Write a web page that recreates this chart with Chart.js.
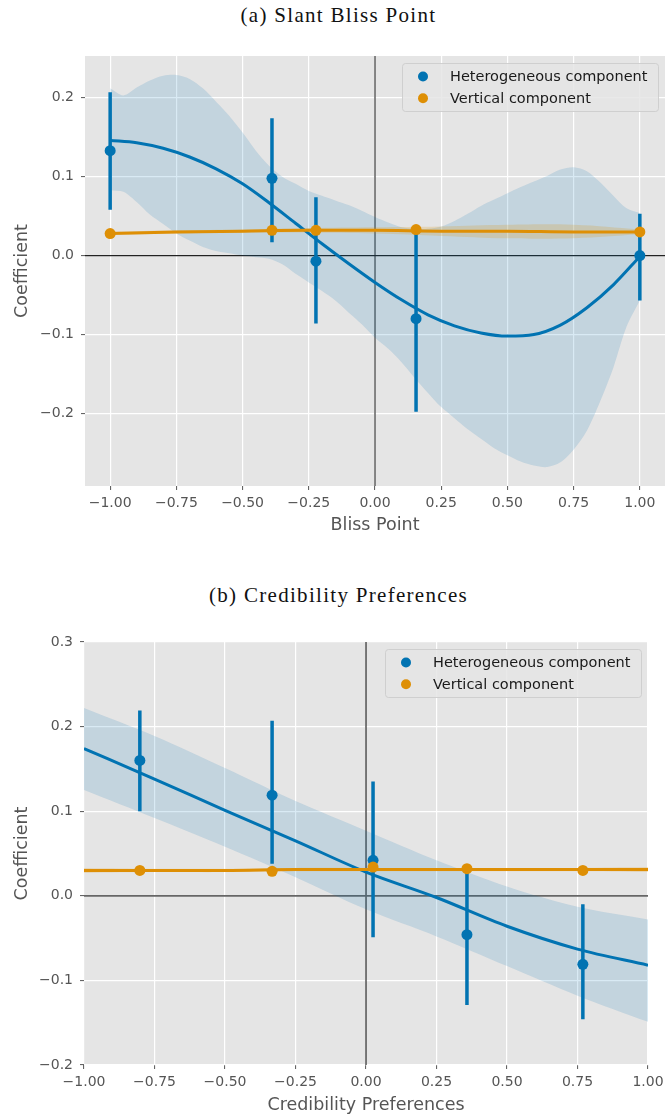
<!DOCTYPE html>
<html>
<head>
<meta charset="utf-8">
<script src="https://cdn.jsdelivr.net/npm/chart.js@4.4.1/dist/chart.umd.min.js"></script>
<style>
    body { margin: 0; background: #fff; }
    #page { position: relative; width: 665px; height: 1118px; overflow: hidden; }
    .panel-title {
        position: absolute; left: 6px; width: 665px; height: 30px; line-height: 30px;
        text-align: center; font-family: "Liberation Serif", serif; font-size: 21px;
        letter-spacing: 1.3px; color: #111;
    }
    canvas { position: absolute; left: 0; }
</style>
</head>
<body>
<div id="page">
    <div class="panel-title" style="top: 0;">(a) Slant Bliss Point</div>
    <canvas id="chartBliss" width="665" height="510" style="top: 30px;"></canvas>
    <div class="panel-title" style="top: 580px;">(b) Credibility Preferences</div>
    <canvas id="chartCred" width="665" height="508" style="top: 610px;"></canvas>
</div>

<script>
// ---- (a) Slant bliss point ----
const blissX = [-1.0, -0.389, -0.223, 0.155, 1.0];
const blissHet = [0.133, 0.098, -0.007, -0.080, 0.000];
const blissHetLo = [0.058, 0.017, -0.086, -0.198, -0.057];
const blissHetHi = [0.207, 0.174, 0.074, 0.034, 0.053];
const blissVert = [0.028, 0.032, 0.032, 0.033, 0.030];

const blissFitX = [-1.0, -0.9, -0.8, -0.7, -0.6, -0.5, -0.4, -0.3, -0.2, -0.1, 0.0,
    0.1, 0.2, 0.3, 0.4, 0.5, 0.6, 0.7, 0.8, 0.9, 1.0];
const blissHetFit = [0.146, 0.143, 0.136, 0.125, 0.110, 0.091, 0.067, 0.041, 0.015, -0.010, -0.034,
    -0.056, -0.075, -0.089, -0.098, -0.102, -0.100, -0.088, -0.066, -0.037, -0.001];

const blissBandX = [-1.0, -0.95, -0.9, -0.85, -0.8, -0.75, -0.7, -0.65, -0.6, -0.55, -0.5,
    -0.45, -0.4, -0.35, -0.3, -0.25, -0.2, -0.15, -0.1, -0.05, 0.0,
    0.05, 0.1, 0.15, 0.2, 0.25, 0.3, 0.35, 0.4, 0.45, 0.5,
    0.55, 0.6, 0.65, 0.7, 0.75, 0.8, 0.85, 0.9, 0.95, 1.0];
const blissBandHi = [0.212, 0.203, 0.213, 0.222, 0.228, 0.229, 0.224, 0.212, 0.195, 0.177, 0.156,
    0.133, 0.114, 0.100, 0.091, 0.082, 0.076, 0.070, 0.064, 0.057, 0.049,
    0.042, 0.036, 0.034, 0.034, 0.037, 0.044, 0.053, 0.063, 0.071, 0.079,
    0.087, 0.094, 0.101, 0.109, 0.112, 0.107, 0.093, 0.076, 0.060, 0.054];
const blissBandLo = [0.083, 0.081, 0.068, 0.052, 0.040, 0.028, 0.019, 0.011, 0.006, 0.003, 0.000,
    -0.002, -0.004, -0.011, -0.023, -0.034, -0.045, -0.057, -0.072, -0.087, -0.104,
    -0.118, -0.135, -0.155, -0.174, -0.192, -0.206, -0.220, -0.232, -0.244, -0.253,
    -0.261, -0.266, -0.268, -0.262, -0.246, -0.222, -0.185, -0.142, -0.090, -0.057];

const blissVertFitX = [-1.0, -0.75, -0.5, -0.25, 0.0, 0.25, 0.5, 0.75, 1.0];
const blissVertFit = [0.028, 0.030, 0.031, 0.032, 0.032, 0.031, 0.031, 0.030, 0.030];
const blissVertHi = [0.030, 0.032, 0.033, 0.035, 0.036, 0.037, 0.039, 0.039, 0.033];
const blissVertLo = [0.026, 0.028, 0.029, 0.029, 0.028, 0.025, 0.022, 0.022, 0.027];

const blissXTicks = [-1.0, -0.75, -0.5, -0.25, 0.0, 0.25, 0.5, 0.75, 1.0];
const blissYTicks = [-0.2, -0.1, 0.0, 0.1, 0.2];

// ---- (b) Credibility preferences ----
const credX = [-0.802, -0.333, 0.025, 0.358, 0.769];
const credHet = [0.160, 0.119, 0.042, -0.046, -0.081];
const credHetLo = [0.100, 0.038, -0.049, -0.129, -0.146];
const credHetHi = [0.219, 0.207, 0.135, 0.037, -0.010];
const credVert = [0.030, 0.029, 0.034, 0.032, 0.030];

const credFitX = [-1.0, -0.75, -0.5, -0.25, 0.0, 0.25, 0.5, 0.75, 1.0];
const credHetFit = [0.174, 0.138, 0.101, 0.065, 0.028, -0.002, -0.036, -0.063, -0.082];
const credBandHi = [0.222, 0.189, 0.151, 0.112, 0.077, 0.042, 0.011, -0.013, -0.028];
const credBandLo = [0.125, 0.092, 0.058, 0.022, -0.016, -0.048, -0.083, -0.118, -0.149];

const credVertFit = [0.030, 0.030, 0.030, 0.031, 0.031, 0.031, 0.031, 0.031, 0.031];
const credVertHi = [0.033, 0.032, 0.032, 0.033, 0.033, 0.033, 0.033, 0.033, 0.034];
const credVertLo = [0.027, 0.028, 0.028, 0.029, 0.029, 0.029, 0.029, 0.029, 0.028];

const credXTicks = [-1.0, -0.75, -0.5, -0.25, 0.0, 0.25, 0.5, 0.75, 1.0];
const credYTicks = [-0.2, -0.1, 0.0, 0.1, 0.2, 0.3];

const BLUE = '#0173b2';
const ORANGE = '#de8f05';
const TEXT_GREY = '#555555';

function pts(xs, ys) {
    return xs.map((x, i) => ({ x: x, y: ys[i] }));
}

// vertical CI segments, separated by gaps
function errorSegments(xs, lo, hi) {
    const out = [];
    xs.forEach((x, i) => {
        out.push({ x: x, y: lo[i] }, { x: x, y: hi[i] }, { x: x, y: null });
    });
    return out;
}

function fmt(v, digits) {
    const s = Math.abs(v).toFixed(digits);
    return v < -1e-9 ? '\u2212' + s : s;
}

// legend drawn as a rounded box in the upper right of the plot
const boxLegend = {
    id: 'boxLegend',
    afterDatasetsDraw(chart) {
        const { ctx, chartArea } = chart;
        const items = chart.data.datasets.filter((d) => d.inLegend);
        const w = 256, h = 48;
        const left = chartArea.right - 7 - w;
        const top = chartArea.top + 7;
        ctx.save();
        ctx.beginPath();
        ctx.roundRect(left + 0.5, top + 0.5, w, h, 3);
        ctx.fillStyle = 'rgba(229,229,229,0.85)';
        ctx.fill();
        ctx.strokeStyle = 'rgba(204,204,204,0.9)';
        ctx.lineWidth = 1;
        ctx.stroke();
        ctx.font = '14.5px "DejaVu Sans"';
        ctx.textBaseline = 'middle';
        ctx.textAlign = 'left';
        items.forEach((d, i) => {
            const cy = top + 13.5 + i * 21.7;
            ctx.beginPath();
            ctx.arc(left + 21, cy, 5, 0, Math.PI * 2);
            ctx.fillStyle = d.pointBackgroundColor;
            ctx.fill();
            ctx.fillStyle = '#1a1a1a';
            ctx.fillText(d.label, left + 48, cy + 1);
        });
        ctx.restore();
    }
};

function buildDatasets(d) {
    return [
        {
            label: 'Heterogeneous component', inLegend: true,
            data: pts(d.x, d.het), showLine: false,
            pointRadius: 5.5, pointBackgroundColor: BLUE, pointBorderWidth: 0, order: 1
        },
        {
            label: 'Vertical component', inLegend: true,
            data: pts(d.x, d.vert), showLine: false,
            pointRadius: 5.5, pointBackgroundColor: ORANGE, pointBorderWidth: 0, order: 0
        },
        {
            label: 'vertical fit', data: pts(d.vertFitX, d.vertFit),
            borderColor: ORANGE, borderWidth: 3, pointRadius: 0, cubicInterpolationMode: 'monotone', order: 2
        },
        {
            label: 'heterogeneous CI', data: errorSegments(d.x, d.hetLo, d.hetHi),
            borderColor: BLUE, borderWidth: 3.5, borderCapStyle: 'butt',
            pointRadius: 0, spanGaps: false, order: 3
        },
        {
            label: 'heterogeneous fit', data: pts(d.fitX, d.hetFit),
            borderColor: BLUE, borderWidth: 3, pointRadius: 0, cubicInterpolationMode: 'monotone', order: 4
        },
        {
            label: 'vertical band hi', data: pts(d.vertFitX, d.vertHi),
            borderWidth: 0, pointRadius: 0, tension: 0.4,
            fill: '+1', backgroundColor: 'rgba(222,143,5,0.2)', order: 5
        },
        {
            label: 'vertical band lo', data: pts(d.vertFitX, d.vertLo),
            borderWidth: 0, pointRadius: 0, tension: 0.4, order: 5
        },
        {
            label: 'heterogeneous band hi', data: pts(d.bandX, d.bandHi),
            borderWidth: 0, pointRadius: 0, tension: 0.3,
            fill: '+1', backgroundColor: 'rgba(1,115,178,0.15)', order: 6
        },
        {
            label: 'heterogeneous band lo', data: pts(d.bandX, d.bandLo),
            borderWidth: 0, pointRadius: 0, tension: 0.3, order: 6
        },
        {
            label: 'zero y', data: [{ x: d.xMin, y: 0 }, { x: d.xMax, y: 0 }],
            borderColor: d.hZeroColor, borderWidth: d.hZeroWidth, pointRadius: 0, order: 7
        },
        {
            label: 'zero x', data: [{ x: 0, y: d.yMin }, { x: 0, y: d.yMax }],
            borderColor: d.vZeroColor, borderWidth: d.vZeroWidth, pointRadius: 0, order: 7
        }
    ];
}

function makeChart(canvasId, d) {
    const tickFont = { family: 'DejaVu Sans', size: 14 };
    const titleFont = { family: 'DejaVu Sans', size: 17.5 };
    const grid = { color: '#ffffff', lineWidth: 1.2, tickColor: TEXT_GREY, tickWidth: 1, tickLength: 4 };

    return new Chart(document.getElementById(canvasId), {
        type: 'line',
        data: { datasets: buildDatasets(d) },
        options: {
            responsive: false,
            animation: false,
            devicePixelRatio: 1,
            events: [],
            layout: { autoPadding: false, padding: { top: d.padTop, right: d.padRight, bottom: 0, left: 0 } },
            plugins: { legend: { display: false }, tooltip: { enabled: false } },
            scales: {
                x: {
                    type: 'linear', min: d.xMin, max: d.xMax,
                    afterBuildTicks: (s) => { s.ticks = d.xTicks.map((v) => ({ value: v })); },
                    afterFit: (s) => {
                        s.height = d.xAxisHeight;
                        s.paddingLeft = 0;
                        s.paddingRight = 0;
                    },
                    ticks: { callback: (v) => fmt(v, 2), font: tickFont, color: TEXT_GREY, padding: 5, maxRotation: 0, autoSkip: false },
                    grid: grid,
                    border: { display: false },
                    title: { display: true, text: d.xLabel, font: titleFont, color: TEXT_GREY, padding: { top: 0, bottom: d.xTitlePad } }
                },
                y: {
                    type: 'linear', min: d.yMin, max: d.yMax,
                    afterBuildTicks: (s) => { s.ticks = d.yTicks.map((v) => ({ value: v })); },
                    afterFit: (s) => {
                        s.width = d.yAxisWidth;
                        s.paddingTop = 0;
                        s.paddingBottom = 0;
                    },
                    ticks: { callback: (v) => fmt(v, 1), font: tickFont, color: TEXT_GREY, padding: 7, autoSkip: false },
                    grid: grid,
                    border: { display: false },
                    title: { display: true, text: 'Coefficient', font: titleFont, color: TEXT_GREY, padding: { top: 12, bottom: 0 } }
                }
            }
        },
        plugins: [
            {
                id: 'plotBackground',
                beforeDraw(chart) {
                    const { ctx, chartArea } = chart;
                    ctx.save();
                    ctx.fillStyle = '#e5e5e5';
                    ctx.fillRect(chartArea.left, chartArea.top, chartArea.right - chartArea.left, chartArea.bottom - chartArea.top);
                    ctx.restore();
                }
            },
            boxLegend
        ]
    });
}

makeChart('chartBliss', {
    x: blissX, het: blissHet, hetLo: blissHetLo, hetHi: blissHetHi, vert: blissVert,
    fitX: blissFitX, hetFit: blissHetFit,
    bandX: blissBandX, bandHi: blissBandHi, bandLo: blissBandLo,
    vertFitX: blissVertFitX, vertFit: blissVertFit, vertHi: blissVertHi, vertLo: blissVertLo,
    xTicks: blissXTicks, yTicks: blissYTicks,
    xMin: -1.095, xMax: 1.095, yMin: -0.292, yMax: 0.253,
    xLabel: 'Bliss Point',
    padTop: 26, padRight: 0, xAxisHeight: 54, yAxisWidth: 85, xTitlePad: 3.8,
    hZeroColor: '#222222', hZeroWidth: 1.1, vZeroColor: '#555555', vZeroWidth: 1.4
});

makeChart('chartCred', {
    x: credX, het: credHet, hetLo: credHetLo, hetHi: credHetHi, vert: credVert,
    fitX: credFitX, hetFit: credHetFit,
    bandX: credFitX, bandHi: credBandHi, bandLo: credBandLo,
    vertFitX: credFitX, vertFit: credVertFit, vertHi: credVertHi, vertLo: credVertLo,
    xTicks: credXTicks, yTicks: credYTicks,
    xMin: -1.0, xMax: 1.0, yMin: -0.2, yMax: 0.3,
    xLabel: 'Credibility Preferences',
    padTop: 32, padRight: 17, xAxisHeight: 53, yAxisWidth: 84, xTitlePad: 2.5,
    hZeroColor: '#666666', hZeroWidth: 1.8, vZeroColor: '#111111', vZeroWidth: 1.1
});
</script>
</body>
</html>
